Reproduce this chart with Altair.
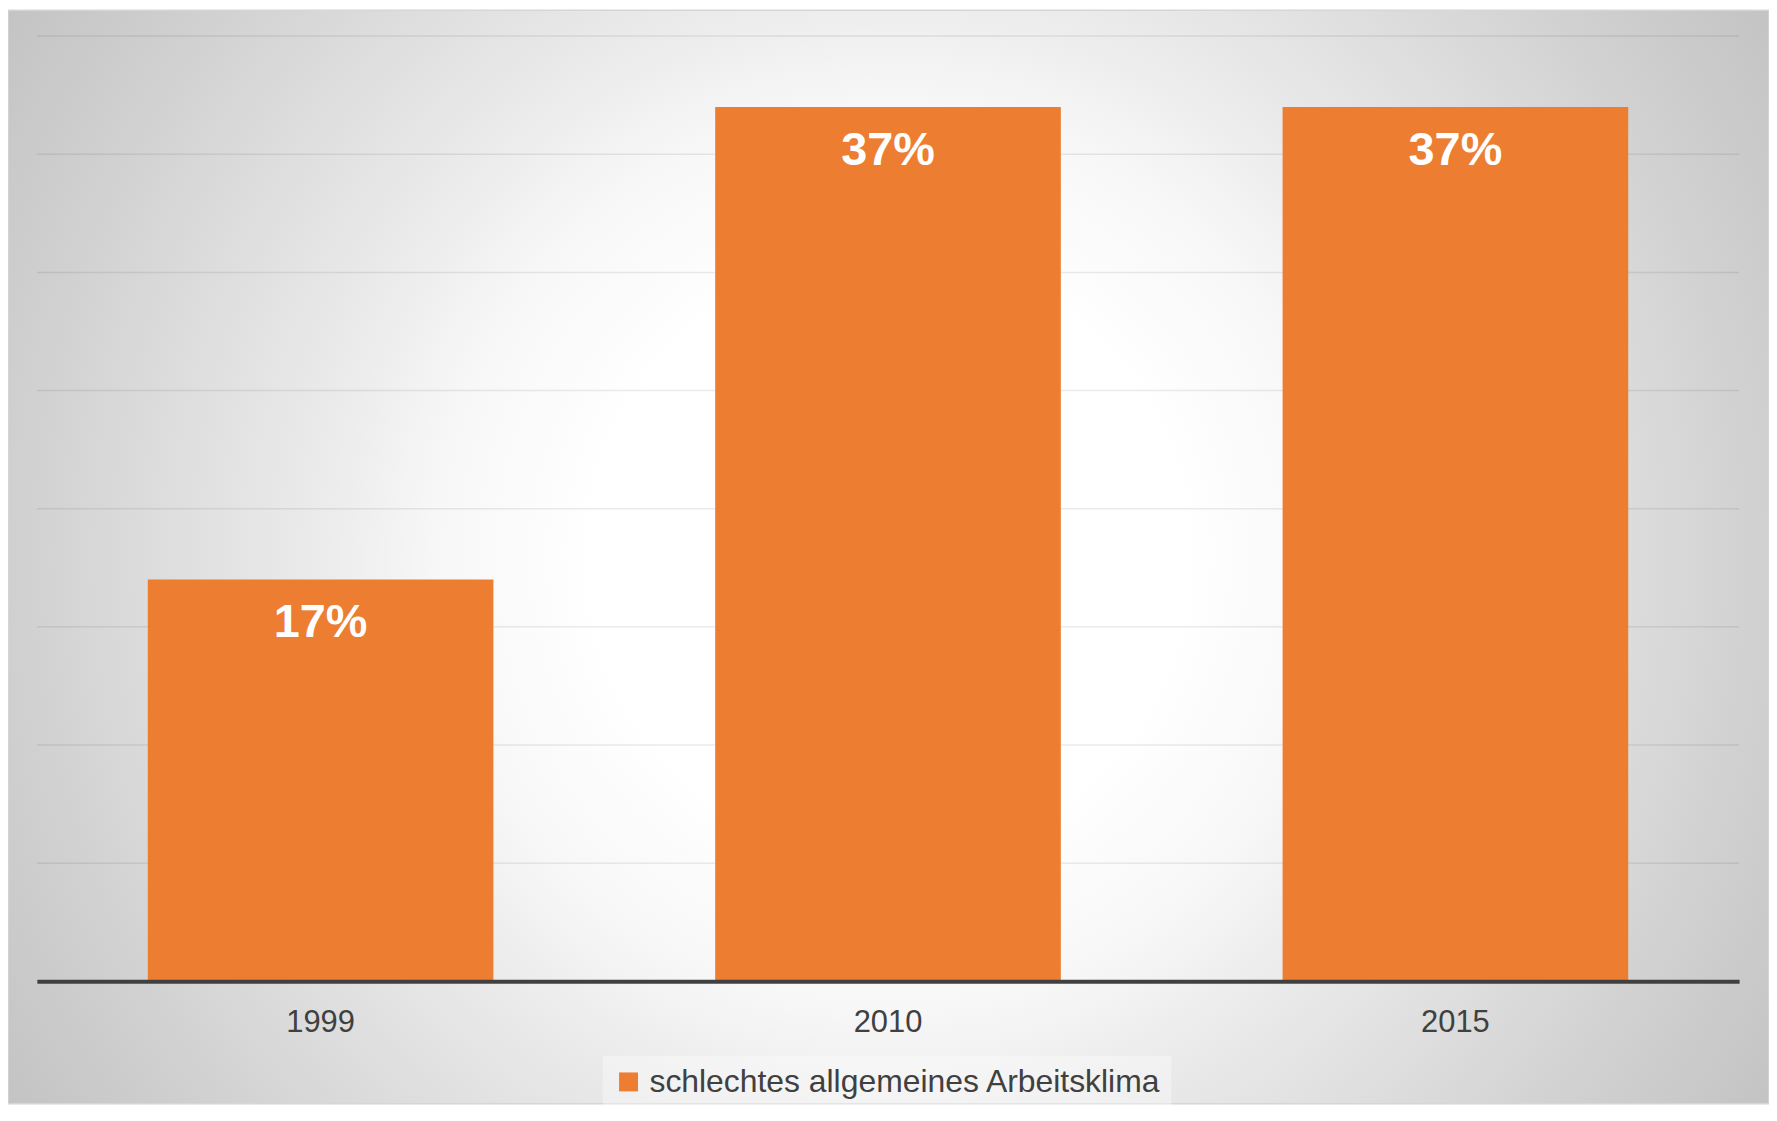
import altair as alt
import pandas as pd

years = ["1999", "2010", "2015"]
values = [17, 37, 37]
series_name = "schlechtes allgemeines Arbeitsklima"
grid_values = [0, 5, 10, 15, 20, 25, 30, 35, 40]

bar_color = "#ED7D31"
FONT = "Liberation Sans"

W, H = 1709, 949
PAD = {"left": 29, "top": 26, "right": 30, "bottom": 123}

df = pd.DataFrame({
    "year": years,
    "value": values,
    "series": [series_name] * len(years),
    "label": [f"{v}%" for v in values],
})
grid_df = pd.DataFrame({"v": grid_values})
bg_df = pd.DataFrame({"a": [0]})

y_scale = alt.Scale(domain=[0, 40], nice=False, zero=True)
x_scale = alt.Scale(paddingInner=0.39, paddingOuter=0.195)

gradient = {
    "gradient": "radial",
    "x1": 0.5, "y1": 0.5, "r1": 0,
    "x2": 0.5, "y2": 0.5, "r2": 0.6,
    "stops": [
        {"offset": 0.0, "color": "#ffffff"},
        {"offset": 0.28, "color": "#ffffff"},
        {"offset": 0.43, "color": "#f7f7f7"},
        {"offset": 0.53, "color": "#ececec"},
        {"offset": 0.83, "color": "#d0d0d0"},
        {"offset": 1.0, "color": "#c2c2c2"},
    ],
}

bg = alt.Chart(bg_df).mark_rect(fill=gradient, stroke="#d6d6d6", strokeWidth=1.5).encode(
    x=alt.value(-PAD["left"]),
    x2=alt.value(W + PAD["right"]),
    y=alt.value(-PAD["top"]),
    y2=alt.value(H + PAD["bottom"]),
)

grid = alt.Chart(grid_df).mark_rule(color="#000000", opacity=0.08, strokeWidth=1.5).encode(
    y=alt.Y("v:Q", scale=y_scale, axis=None),
)

bars = alt.Chart(df).mark_bar(size=347).encode(
    x=alt.X("year:N", sort=years, scale=x_scale,
            axis=alt.Axis(title=None, labelAngle=0, ticks=False, tickSize=0,
                          labelPadding=26, labelFontSize=31, labelColor="#404040",
                          labelFont=FONT, domainColor="#404040", domainWidth=4,
                          grid=False, zindex=1)),
    y=alt.Y("value:Q", scale=y_scale, axis=None),
    color=alt.Color("series:N", scale=alt.Scale(range=[bar_color]),
                    legend=alt.Legend(title=None, orient="none", legendX=568, legendY=1024,
                                      symbolType="square", symbolSize=361,
                                      symbolStrokeWidth=0, labelFontSize=32,
                                      labelColor="#404040", labelFont=FONT,
                                      labelOffset=5, padding=10,
                                      fillColor="rgba(255,255,255,0.35)",
                                      labelLimit=800)),
)

text = alt.Chart(df).mark_text(
    dy=44, baseline="middle", align="center", fontSize=47, fontWeight="bold",
    color="white", font=FONT,
).encode(
    x=alt.X("year:N", sort=years, scale=x_scale),
    y=alt.Y("value:Q", scale=y_scale),
    text="label:N",
)

chart = alt.layer(bg, grid, bars, text).properties(
    width=W, height=H, padding=PAD, autosize=alt.AutoSizeParams(type="none"),
    background="white",
).configure_view(stroke=None)

chart.save("out.html", embed_options={"renderer": "svg", "actions": False})
